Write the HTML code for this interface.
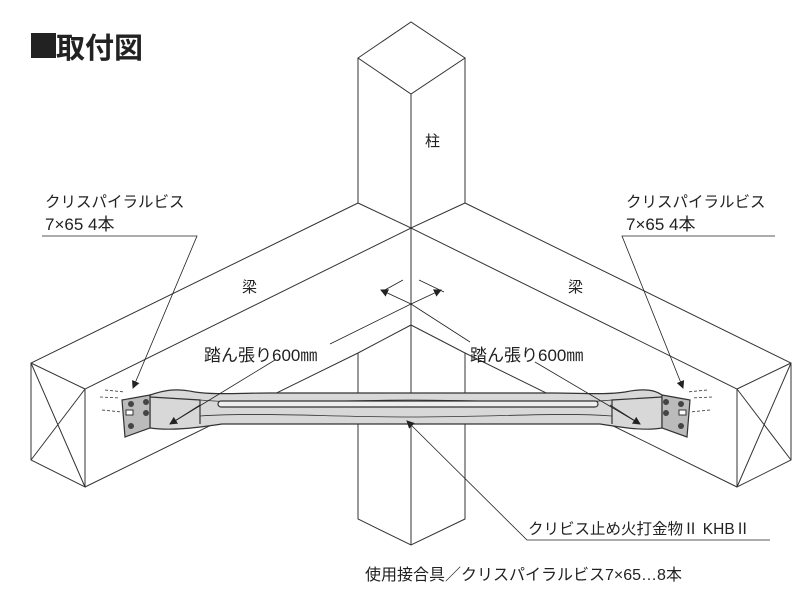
<!DOCTYPE html>
<html><head><meta charset="utf-8"><style>
html,body{margin:0;padding:0;background:#fff;}
svg{display:block;}
text{font-family:"Liberation Sans","Noto Sans CJK JP",sans-serif;fill:#222;}
</style></head><body>
<svg width="809" height="589" viewBox="0 0 809 589" xmlns="http://www.w3.org/2000/svg">
<defs><marker id="ar" markerWidth="8" markerHeight="8" refX="7" refY="4" orient="auto" markerUnits="userSpaceOnUse"><path d="M0,0 L8,4 L0,8 Z" fill="#222"/></marker></defs>
<g stroke="#333" stroke-width="1" fill="none">
<path d="M358,58 L411,22 L465,58 L411,94 Z"/>
<path d="M358,58 L358,203 M465,58 L465,203 M411,94 L411,545"/>
<path d="M358,203 L31,363 L31,460 L85,487 L85,389 L411,228 L737,389 L737,487 L791,460 L791,363 L465,203"/>
<path d="M358,203 L411,228 L465,203"/>
<path d="M31,363 L85,389 M791,363 L737,389"/>
<path d="M31,363 L85,487 M85,389 L31,460 M791,363 L737,487 M737,389 L791,460"/>
<path d="M85,487 L358,353 L411,325 L465,353 L737,487"/>
<path d="M358,353 L358,519 L411,545 L465,519 L465,353"/>
</g>
<g stroke="#333" stroke-width="1.2">
<path d="M150,395 C165,390 175,388 195,392 C215,395 240,393 270,393 L552,393 C582,393 605,395 625,392 C645,388 655,390 662,395 L662,428 C645,431 625,428 600,424 L222,424 C195,428 170,431 150,428 Z" fill="#d8d8d8"/>
<path d="M150,397 L200,400 L200,424 M662,397 L612,400 L612,424" fill="none"/>
<path d="M200,400 C260,405 330,400 411,400 C500,400 560,405 612,400 M200,416 C260,412 330,417 411,417 C500,417 560,412 612,416" fill="none" stroke-width="0.8"/>
<rect x="218" y="401" width="380" height="6" rx="3" fill="#eee"/>
<path d="M122,400 L150,395 L150,428 L125,437 Z M690,400 L662,395 L662,428 L687,437 Z" fill="#bbb"/>
</g>
<g fill="#444"><circle cx="131" cy="404" r="3"/><circle cx="146" cy="402" r="3"/><circle cx="146" cy="413" r="3"/><circle cx="131" cy="426" r="3"/>
<circle cx="681" cy="404" r="3"/><circle cx="666" cy="402" r="3"/><circle cx="666" cy="413" r="3"/><circle cx="681" cy="426" r="3"/></g>
<rect x="126" y="410" width="7" height="5" fill="#fff" stroke="#333"/><rect x="679" y="410" width="7" height="5" fill="#fff" stroke="#333"/>
<g stroke="#333" stroke-width="0.8" stroke-dasharray="3,2" fill="none">
<path d="M105,390 L125,392 M100,397 L120,398 M102,410 L122,412 M707,390 L687,392 M712,397 L692,398 M710,410 L690,412"/>
</g>
<g stroke="#222" stroke-width="0.8" fill="none">
<path d="M42,236 L197,236 L133,388" marker-end="url(#ar)"/>
<path d="M775,236 L622,236 L683,388" marker-end="url(#ar)"/>
<path d="M770,540 L527,540 L407,421" marker-end="url(#ar)"/>
<path d="M411,304 L330,344 M275,360 L170,424" /><path d="M200,405 L170,424" marker-end="url(#ar)"/>
<path d="M411,304 L470,342 M535,362 L640,424"/><path d="M610,405 L640,424" marker-end="url(#ar)"/>
<path d="M411,304 L381,290" marker-end="url(#ar)"/><path d="M411,304 L441,290" marker-end="url(#ar)"/>
<path d="M383,291 L403,280 M419,280 L444,292"/>
</g>
<rect x="31" y="33" width="25" height="25" fill="#222"/>
<text x="56" y="58" font-size="29" font-weight="bold">取付図</text>
<text x="425" y="146" font-size="15">柱</text>
<text x="242" y="292" font-size="15">梁</text>
<text x="568" y="292" font-size="15">梁</text>
<text x="204" y="361" font-size="17">踏ん張り600㎜</text>
<text x="470" y="361" font-size="17">踏ん張り600㎜</text>
<text x="45" y="207" font-size="15.5">クリスパイラルビス</text>
<text x="45" y="230" font-size="17">7×65 4本</text>
<text x="626" y="207" font-size="15.5">クリスパイラルビス</text>
<text x="626" y="230" font-size="17">7×65 4本</text>
<text x="528" y="534" font-size="15.5">クリビス止め火打金物Ⅱ KHBⅡ</text>
<text x="365" y="580" font-size="16">使用接合具／クリスパイラルビス7×65…8本</text>
</svg>
</body></html>
